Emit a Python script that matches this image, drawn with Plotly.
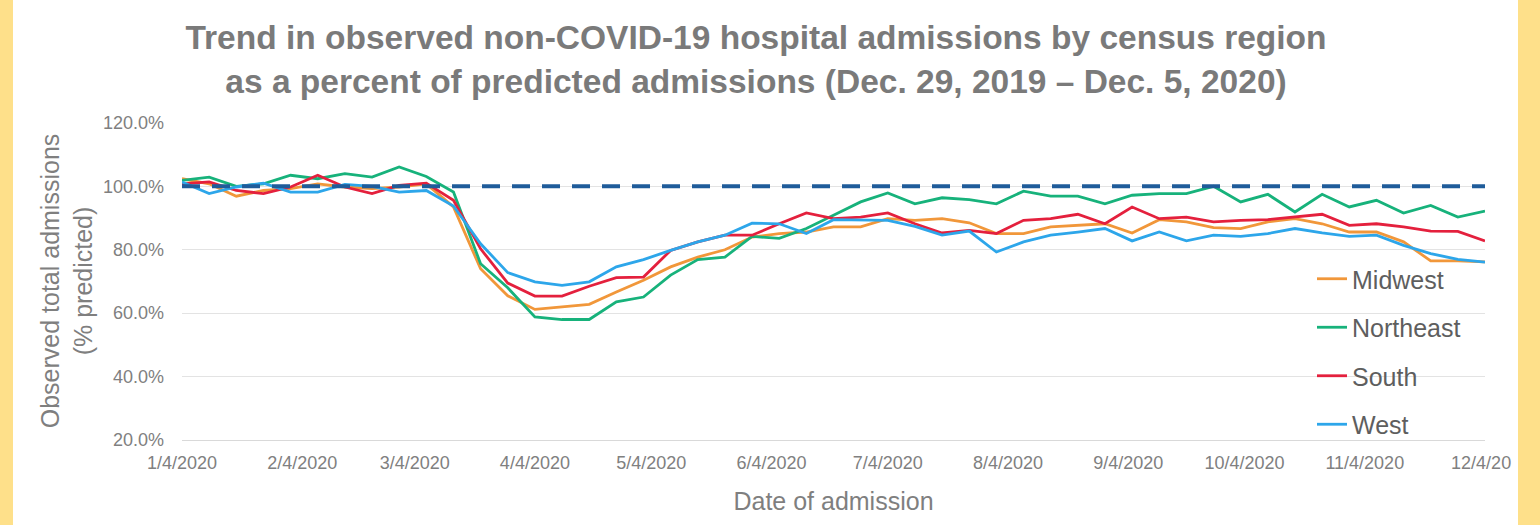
import plotly.graph_objects as go
import pandas as pd

# ---- data ----
weeks = pd.date_range("2020-01-04", "2020-12-05", freq="7D").strftime("%Y-%m-%d").tolist()

midwest = [102.4, 100.8, 96.9, 98.7, 99.3, 100.8, 99.8, 99.3, 99.8, 100.8,
           93.5, 74.0, 65.5, 61.2, 62.0, 62.8, 66.7, 70.4, 74.6, 77.7,
           80.0, 84.0, 85.1, 85.6, 87.2, 87.2, 89.8, 89.3, 89.8, 88.5,
           85.1, 85.1, 87.2, 87.7, 88.2, 85.3, 89.5, 88.8, 87.0, 86.7,
           88.8, 89.8, 88.2, 85.6, 85.6, 82.5, 76.5, 76.5, 76.2]
northeast = [101.9, 102.9, 100.0, 100.8, 103.5, 102.4, 104.0, 102.9, 106.1, 103.1,
             98.2, 75.6, 68.0, 58.8, 58.0, 58.0, 63.6, 65.1, 72.0, 76.9,
             77.7, 84.2, 83.6, 86.7, 90.9, 95.1, 97.9, 94.5, 96.4, 95.8,
             94.5, 98.5, 96.9, 96.9, 94.5, 97.2, 97.7, 97.7, 100.0, 95.1,
             97.5, 91.9, 97.5, 93.5, 95.6, 91.6, 94.0, 90.3, 92.2]
south = [100.8, 101.4, 98.7, 97.7, 99.8, 103.5, 99.8, 97.7, 100.3, 101.0,
         95.6, 80.3, 69.5, 65.4, 65.4, 68.5, 71.2, 71.4, 79.8, 82.5,
         84.6, 84.6, 88.2, 91.6, 89.8, 90.3, 91.6, 88.2, 85.3, 86.1,
         85.1, 89.3, 89.8, 91.2, 88.2, 93.5, 89.8, 90.3, 88.8, 89.3,
         89.5, 90.3, 91.2, 87.7, 88.2, 87.2, 85.9, 85.8, 82.8]
west = [101.4, 97.7, 99.8, 101.0, 98.2, 98.2, 100.6, 100.0, 98.2, 98.7,
        93.8, 81.9, 72.8, 69.9, 68.8, 69.9, 74.6, 76.9, 79.8, 82.5,
        84.6, 88.4, 88.2, 85.1, 89.5, 89.5, 89.3, 87.4, 84.6, 85.9,
        79.3, 82.5, 84.6, 85.6, 86.7, 82.8, 85.6, 82.8, 84.6, 84.2,
        85.1, 86.7, 85.3, 84.2, 84.6, 81.4, 78.8, 77.0, 76.1]
predicted = [100.0] * len(weeks)

tick_dates = ["2020-01-04", "2020-02-04", "2020-03-04", "2020-04-04", "2020-05-04",
              "2020-06-04", "2020-07-04", "2020-08-04", "2020-09-04", "2020-10-04",
              "2020-11-04", "2020-12-04"]
tick_labels = ["1/4/2020", "2/4/2020", "3/4/2020", "4/4/2020", "5/4/2020",
               "6/4/2020", "7/4/2020", "8/4/2020", "9/4/2020", "10/4/2020",
               "11/4/2020", "12/4/20"]
y_ticks = [20, 40, 60, 80, 100, 120]
y_tick_labels = ["20.0%", "40.0%", "60.0%", "80.0%", "100.0%", "120.0%"]

series = [("Midwest", midwest, "#F1973A"),
          ("Northeast", northeast, "#17B27B"),
          ("South", south, "#E4203D"),
          ("West", west, "#2DA6EA")]

# ---- figure ----
fig = go.Figure()
for name, vals, color in series:
    fig.add_trace(go.Scatter(x=weeks, y=vals, mode="lines", name=name,
                             legendgroup=name,
                             line=dict(color=color, width=2.8)))
fig.add_trace(go.Scatter(x=weeks, y=predicted, mode="lines", showlegend=False,
                         line=dict(color="#1F5C9A", width=4, dash="18px,12px")))

FONT = "Liberation Sans, Arial, sans-serif"
L, R, T, B = 182, 55, 122, 85
W, H = 1540, 525
pw = W - L - R
ph = H - T - B

fig.update_layout(
    width=W, height=H,
    margin=dict(l=L, r=R, t=T, b=B),
    paper_bgcolor="#FEE08A",
    plot_bgcolor="white",
    font=dict(family=FONT, color="#808080"),
    title=dict(
        text="<b>Trend in observed non-COVID-19 hospital admissions by census region<br>"
             "as a percent of predicted admissions (Dec. 29, 2019 \u2013 Dec. 5, 2020)</b>",
        x=756 / W, xanchor="center", xref="container",
        y=1 - 49 / H, yanchor="top", yref="container",
        font=dict(size=33.5, color="#7A7A7A", family=FONT),
    ),
    legend=dict(
        x=(1312 - L) / pw, y=(440 - 256) / ph, xanchor="left", yanchor="top",
        bgcolor="rgba(0,0,0,0)", font=dict(size=25, color="#5E5E5E", family=FONT),
        tracegroupgap=13,
    ),
    shapes=[dict(type="rect", xref="paper", yref="paper",
                 x0=(13 - L) / pw, x1=(1518 - L) / pw, y0=-0.5, y1=1.6,
                 fillcolor="white", line=dict(width=0), layer="below")],
)

fig.update_xaxes(
    type="date", range=[weeks[0], weeks[-1]],
    tickvals=tick_dates, ticktext=tick_labels,
    tickfont=dict(size=18, color="#808080"),
    showgrid=False, showline=True, linecolor="#D9D9D9", linewidth=1,
    ticks="", ticklabelstandoff=6,
    title=dict(text="Date of admission", font=dict(size=25, color="#7F7F7F"), standoff=20),
)
fig.update_yaxes(
    range=[20, 120.3], tickvals=y_ticks, ticktext=y_tick_labels,
    tickfont=dict(size=18, color="#808080"),
    showgrid=True, gridcolor="#E3E3E3", gridwidth=1, zeroline=False,
    ticks="", ticklabelstandoff=17,
    title=dict(text="Observed total admissions<br>(% predicted)",
               font=dict(size=25, color="#7F7F7F"), standoff=3),
)

fig.write_html("out.html")
